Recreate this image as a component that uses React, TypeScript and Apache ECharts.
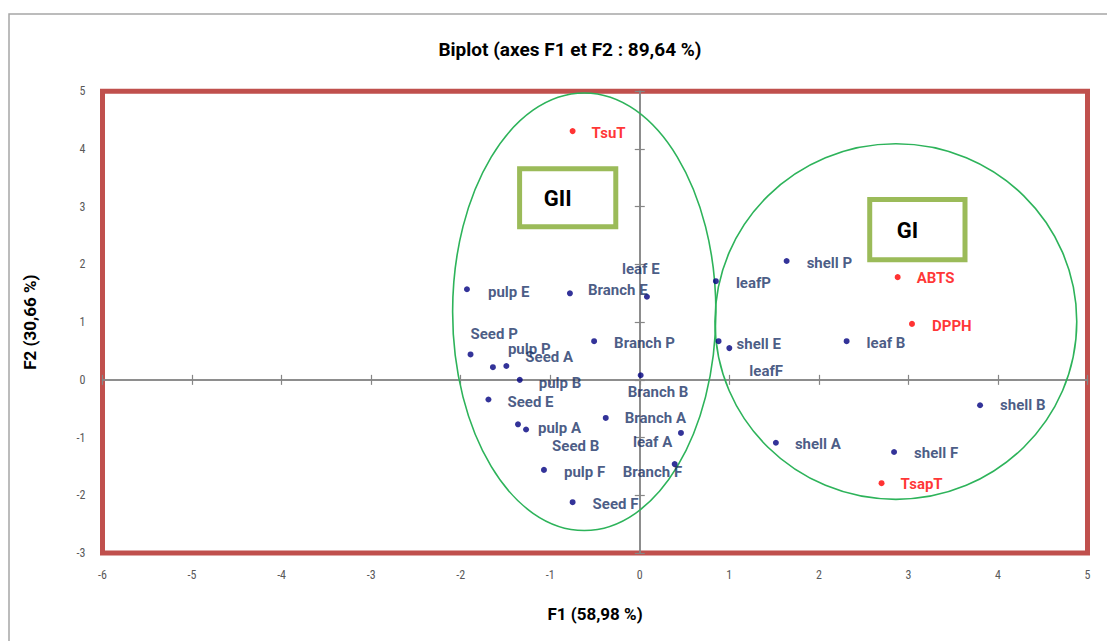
import React, { useEffect, useRef } from "react";
import * as echarts from "echarts";

// Observations (F1, F2)
const obsNames = [
  "pulp E", "Branch E", "leaf E", "leafP", "shell P", "shell E", "leafF", "leaf B",
  "shell B", "shell A", "shell F", "Seed P", "pulp P", "Seed A", "pulp B", "Branch P",
  "Branch B", "Seed E", "Branch A", "pulp A", "Seed B", "leaf A", "Branch F", "pulp F", "Seed F",
];
const obsF1 = [
  -1.93, -0.78, 0.08, 0.85, 1.64, 0.88, 1.0, 2.31,
  3.8, 1.52, 2.84, -1.89, -1.64, -1.49, -1.34, -0.51,
  0.01, -1.69, -0.38, -1.36, -1.27, 0.46, 0.39, -1.07, -0.75,
];
const obsF2 = [
  1.57, 1.5, 1.44, 1.71, 2.06, 0.67, 0.55, 0.67,
  -0.44, -1.09, -1.25, 0.44, 0.22, 0.24, 0.0, 0.67,
  0.08, -0.34, -0.66, -0.77, -0.86, -0.92, -1.46, -1.56, -2.12,
];

// Variables (F1, F2)
const varNames = ["TsuT", "ABTS", "DPPH", "TsapT"];
const varF1 = [-0.75, 2.88, 3.04, 2.7];
const varF2 = [4.31, 1.78, 0.97, -1.79];

// Axis ranges
const xMin = -6, xMax = 5;
const yMin = -3, yMax = 5;

// Group annotations (data space): ellipse centre / radii, label box corners
const groupNames = ["GII", "GI"];
const groupEllipse = [
  [-0.62, 1.18, 1.47, 3.79],
  [2.86, 1.01, 2.02, 3.08],
];
const groupBox = [
  [-1.37, 3.7, -0.24, 2.61],
  [2.54, 3.17, 3.66, 2.04],
];

// label offsets (px) from point centre: [left edge dx, vertical centre dy]
const labelOffsets: Record<string, [number, number]> = {
  "pulp E": [21, 3], "Branch E": [18, -3], "leaf E": [-25, -28], "leafP": [20, 2],
  "shell P": [20, 2], "shell E": [18, 3], "leafF": [20, 23], "leaf B": [20, 2],
  "shell B": [20, 0], "shell A": [19, 1], "shell F": [20, 1], "Seed P": [0, -20],
  "pulp P": [15, -18], "Seed A": [19, -9], "pulp B": [19, 3], "Branch P": [20, 2],
  "Branch B": [-13, 17], "Seed E": [19, 3], "Branch A": [19, 0], "pulp A": [20, 4],
  "Seed B": [26, 17], "leaf A": [-48, 9], "Branch F": [-52, 8], "pulp F": [20, 2],
  "Seed F": [20, 2], "TsuT": [19, 2], "ABTS": [19, 1], "DPPH": [20, 2], "TsapT": [19, 1],
};

const FONT = "'Liberation Sans Narrow', 'Roboto Condensed', Roboto, sans-serif";
const LABEL_FONT = "Roboto, 'Noto Sans', sans-serif";

function makeItems(names: string[], xs: number[], ys: number[], color: string) {
  return names.map((n, i) => {
    const off = labelOffsets[n] || [19, 2];
    return {
      name: n,
      value: [xs[i], ys[i]],
      label: {
        show: true,
        position: "inside",
        align: "left",
        verticalAlign: "middle",
        offset: off,
        formatter: "{b}",
        color,
      },
    };
  });
}

export default function App() {
  const ref = useRef<HTMLDivElement>(null);
  useEffect(() => {
    if (!ref.current) return;
    const chart = echarts.init(ref.current, undefined, { renderer: "svg" });
    const axisGray = "#868686";
    const lineAxisX = (inside: boolean) => ({
      type: "value", min: xMin, max: xMax, interval: 1, position: "bottom",
      axisLine: { show: true, onZero: true, onZeroAxisIndex: 0, lineStyle: { color: axisGray, width: 1.5 } },
      axisTick: { show: true, inside, length: 5, lineStyle: { color: axisGray, width: 1.2 } },
      axisLabel: { show: false }, splitLine: { show: false },
    });
    const lineAxisY = (inside: boolean) => ({
      type: "value", min: yMin, max: yMax, interval: 1, position: "left",
      axisLine: { show: true, onZero: true, onZeroAxisIndex: 0, lineStyle: { color: axisGray, width: 1.5 } },
      axisTick: { show: true, inside, length: 5, lineStyle: { color: axisGray, width: 1.2 } },
      axisLabel: { show: false }, splitLine: { show: false },
    });
    chart.setOption({
      animation: false,
      title: {
        text: "Biplot (axes F1 et F2 : 89,64 %)",
        left: 565, top: 35, textAlign: "center",
        textStyle: { fontFamily: LABEL_FONT, fontSize: 19, fontWeight: "bold", color: "#000" },
      },
      grid: {
        left: 102.5, top: 91.3, right: 19.5, bottom: 88,
        show: true, borderColor: "#c0504d", borderWidth: 5, backgroundColor: "transparent",
      },
      xAxis: [
        {
          type: "value", min: xMin, max: xMax, interval: 1, position: "bottom",
          axisLine: { show: false }, axisTick: { show: false }, splitLine: { show: false },
          axisLabel: { color: "#595959", fontSize: 12, fontFamily: FONT, margin: 16 },
          name: "F1 (58,98 %)", nameLocation: "middle", nameGap: 52,
          nameTextStyle: { fontFamily: LABEL_FONT, fontSize: 17, fontWeight: "bold", color: "#000" },
        },
        lineAxisX(true),
        lineAxisX(false),
      ],
      yAxis: [
        {
          type: "value", min: yMin, max: yMax, interval: 1, position: "left",
          axisLine: { show: false }, axisTick: { show: false }, splitLine: { show: false },
          axisLabel: { color: "#595959", fontSize: 12, fontFamily: FONT, margin: 17 },
          name: "F2 (30,66 %)", nameLocation: "middle", nameGap: 64,
          nameTextStyle: { fontFamily: LABEL_FONT, fontSize: 17, fontWeight: "bold", color: "#000" },
        },
        lineAxisY(true),
        lineAxisY(false),
      ],
      series: [
        {
          type: "scatter", name: "Observations", xAxisIndex: 0, yAxisIndex: 0,
          symbolSize: 6, itemStyle: { color: "#000080" },
          label: { fontFamily: LABEL_FONT, fontSize: 15, fontWeight: "bold" },
          data: makeItems(obsNames, obsF1, obsF2, "#1a3266"),
          z: 5,
        },
        {
          type: "scatter", name: "Variables", xAxisIndex: 0, yAxisIndex: 0,
          symbolSize: 6, itemStyle: { color: "#ff0000" },
          label: { fontFamily: LABEL_FONT, fontSize: 15, fontWeight: "bold" },
          data: makeItems(varNames, varF1, varF2, "#ff0000"),
          z: 5,
        },
      ],
    });

    const px = (x: number, y: number) =>
      chart.convertToPixel({ xAxisIndex: 0, yAxisIndex: 0 }, [x, y]) as number[];
    const graphics: any[] = [
      {
        type: "rect", silent: true, z: -10,
        shape: { x: 9, y: 14, width: 1200, height: 700 },
        style: { fill: "none", stroke: "#a6a6a6", lineWidth: 1.5 },
      },
    ];
    groupNames.forEach((g, i) => {
      const [cx, cy, rx, ry] = groupEllipse[i];
      const c = px(cx, cy);
      const ex = px(cx + rx, cy);
      const ey = px(cx, cy + ry);
      graphics.push({
        type: "ellipse", silent: true, z: 3,
        shape: { cx: c[0], cy: c[1], rx: ex[0] - c[0], ry: c[1] - ey[1] },
        style: { fill: "none", stroke: "#2db35a", lineWidth: 1.6 },
      });
      const [x1, y1, x2, y2] = groupBox[i];
      const p1 = px(x1, y1);
      const p2 = px(x2, y2);
      graphics.push({
        type: "rect", silent: true, z: 3,
        shape: { x: p1[0] + 2.5, y: p1[1] + 2.5, width: p2[0] - p1[0] - 5, height: p2[1] - p1[1] - 5 },
        style: { fill: "#fff", stroke: "#9bbb59", lineWidth: 5 },
      });
      graphics.push({
        type: "text", silent: true, z: 4,
        x: (p1[0] + p2[0]) / 2 - 10, y: (p1[1] + p2[1]) / 2 + 1,
        style: {
          text: g, fill: "#000", font: "bold 22px " + LABEL_FONT,
          textAlign: "center", textVerticalAlign: "middle",
        },
      });
    });
    chart.setOption({ graphic: graphics });

    return () => chart.dispose();
  }, []);
  return (
    <div
      ref={ref}
      style={{ position: "fixed", left: 0, top: 0, width: 1107, height: 641, background: "#fff" }}
    />
  );
}
